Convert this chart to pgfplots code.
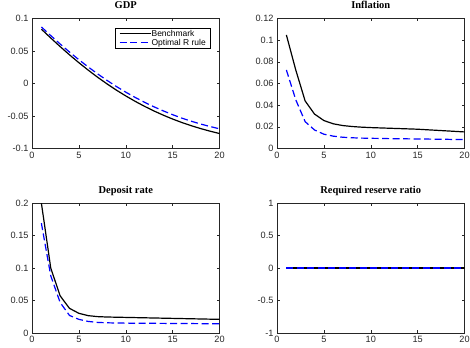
\documentclass[border=0pt]{standalone}
\usepackage{fontspec}
\setmainfont{Liberation Sans}
\newfontfamily\titlefont{Liberation Serif}
\usepackage{pgfplots}
\pgfplotsset{compat=1.18}
\definecolor{axgray}{rgb}{0.15,0.15,0.15}
\definecolor{mblue}{rgb}{0,0,1}
\pgfplotsset{
  mat/.style={
    scale only axis, width=187.5bp, height=130bp,
    xmin=0, xmax=20, xtick={0,5,10,15,20},
    tick align=inside, major tick length=3bp,
    axis line style={axgray, line width=0.5bp},
    major tick style={axgray, line width=0.5bp},
    tick label style={font=\fontsize{9.2}{10}\selectfont, text=axgray},
    /pgf/number format/assume math mode=true,
    title style={font=\titlefont\bfseries\fontsize{10.5}{12}\selectfont, at={(0.5,1)}, anchor=base, yshift=4bp},
    scaled ticks=false,
    anchor=south west,
  },
  bench/.style={black, line width=1.2bp},
  opt/.style={mblue, line width=1.2bp, dash pattern=on 7bp off 3.5bp},
}
\begin{document}
\begin{tikzpicture}[x=1bp,y=1bp]
\path[use as bounding box] (0,0) rectangle (470,347);
% GDP
\begin{axis}[mat, at={(32bp,198.5bp)}, title={GDP},
  ymin=-0.1, ymax=0.1, ytick={-0.1,-0.05,0,0.05,0.1},
  yticklabels={-0.1,-0.05,0,0.05,0.1},
  legend style={at={(1,1)}, xshift=-9bp, yshift=-9.2bp, anchor=north east,
    draw=black, line width=0.5bp, font=\fontsize{8.5}{9}\selectfont,
    inner xsep=4bp, inner ysep=1bp, row sep=0pt,
    nodes={inner sep=0.5bp, text height=6.6bp, text depth=1.6bp}},
  legend cell align=left,
  legend image code/.code={\draw[#1] (0bp,0bp) -- (31bp,0bp);},
]
\addplot[bench] coordinates {(1,0.0836)(2,0.0700)(3,0.0568)(4,0.0441)(5,0.0320)(6,0.0205)(7,0.0096)(8,-0.0006)(9,-0.0102)(10,-0.0191)(11,-0.0274)(12,-0.0351)(13,-0.0422)(14,-0.0487)(15,-0.0547)(16,-0.0601)(17,-0.0650)(18,-0.0694)(19,-0.0734)(20,-0.0770)};
\addlegendentry{Benchmark}
\addplot[opt] coordinates {(1,0.0870)(2,0.0737)(3,0.0608)(4,0.0484)(5,0.0366)(6,0.0254)(7,0.0148)(8,0.0048)(9,-0.0046)(10,-0.0133)(11,-0.0214)(12,-0.0289)(13,-0.0358)(14,-0.0421)(15,-0.0480)(16,-0.0533)(17,-0.0581)(18,-0.0624)(19,-0.0662)(20,-0.0697)};
\addlegendentry{Optimal R rule}
\end{axis}
% Inflation
\begin{axis}[mat, at={(277bp,198.5bp)}, title={Inflation},
  ymin=0, ymax=0.12, ytick={0,0.02,0.04,0.06,0.08,0.1,0.12},
  yticklabels={0,0.02,0.04,0.06,0.08,0.1,0.12}]
\addplot[bench] coordinates {(1,0.1048)(2,0.0725)(3,0.0439)(4,0.0318)(5,0.0258)(6,0.0228)(7,0.0212)(8,0.0203)(9,0.0197)(10,0.0193)(11,0.0190)(12,0.0187)(13,0.0184)(14,0.0181)(15,0.0178)(16,0.0173)(17,0.0168)(18,0.0163)(19,0.0158)(20,0.0153)};
\addplot[opt] coordinates {(1,0.0725)(2,0.0450)(3,0.0248)(4,0.0171)(5,0.0132)(6,0.0114)(7,0.0104)(8,0.0099)(9,0.0096)(10,0.0094)(11,0.0093)(12,0.0091)(13,0.0090)(14,0.0089)(15,0.0088)(16,0.0087)(17,0.0086)(18,0.0085)(19,0.0083)(20,0.0082)};
\end{axis}
% Deposit rate
\begin{axis}[mat, at={(32bp,14bp)}, title={Deposit rate},
  ymin=0, ymax=0.2, ytick={0,0.05,0.1,0.15,0.2},
  yticklabels={0,0.05,0.1,0.15,0.2}]
\addplot[bench] coordinates {(1,0.200)(2,0.100)(3,0.0572)(4,0.0379)(5,0.0303)(6,0.0267)(7,0.0252)(8,0.0246)(9,0.0243)(10,0.0240)(11,0.0237)(12,0.0234)(13,0.0231)(14,0.0228)(15,0.0225)(16,0.0222)(17,0.0219)(18,0.0216)(19,0.0213)(20,0.0210)};
\addplot[opt] coordinates {(1,0.169)(2,0.088)(3,0.047)(4,0.027)(5,0.0210)(6,0.0178)(7,0.0163)(8,0.0157)(9,0.0154)(10,0.0152)(11,0.0151)(12,0.0150)(13,0.0149)(14,0.0148)(15,0.0147)(16,0.0146)(17,0.0145)(18,0.0144)(19,0.0143)(20,0.0142)};
\end{axis}
% Required reserve ratio
\begin{axis}[mat, at={(277bp,14bp)}, title={Required reserve ratio},
  ymin=-1, ymax=1, ytick={-1,-0.5,0,0.5,1},
  yticklabels={-1,-0.5,0,0.5,1}]
\addplot[bench] coordinates {(1,0)(2,0)(3,0)(4,0)(5,0)(6,0)(7,0)(8,0)(9,0)(10,0)(11,0)(12,0)(13,0)(14,0)(15,0)(16,0)(17,0)(18,0)(19,0)(20,0)};
\addplot[opt] coordinates {(1,0)(2,0)(3,0)(4,0)(5,0)(6,0)(7,0)(8,0)(9,0)(10,0)(11,0)(12,0)(13,0)(14,0)(15,0)(16,0)(17,0)(18,0)(19,0)(20,0)};
\end{axis}
\end{tikzpicture}
\end{document}
